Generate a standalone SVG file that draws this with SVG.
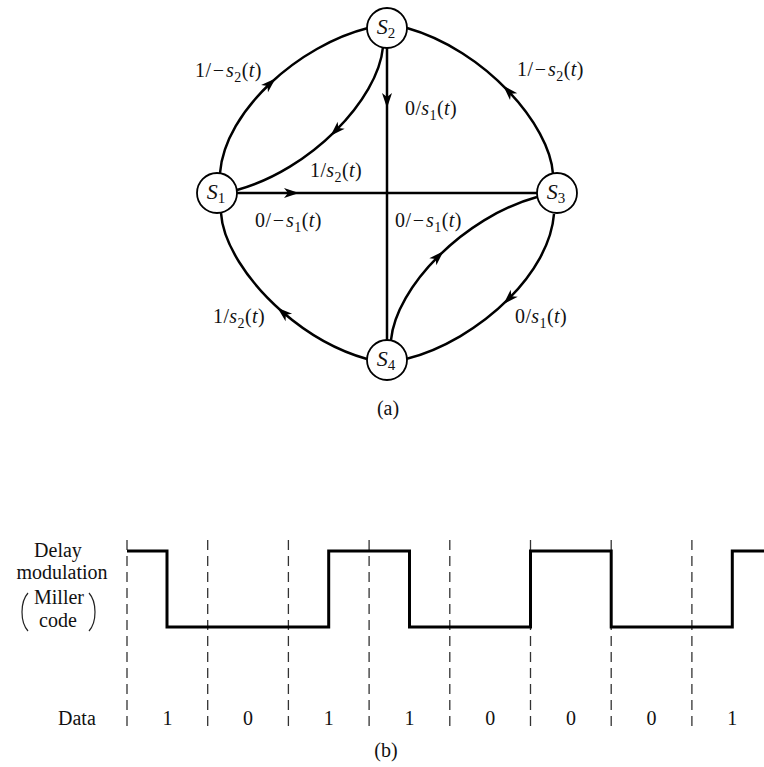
<svg xmlns="http://www.w3.org/2000/svg" width="764" height="767" viewBox="0 0 764 767">
<defs>
<style>
.ln{fill:none;stroke:#000;stroke-width:2.5}
.ar{marker-mid:url(#arr)}
.nc{fill:#fff;stroke:#000;stroke-width:1.8}
.t{font-family:"Liberation Serif","Times New Roman",serif;font-size:20px;fill:#111}
.lb{letter-spacing:0.4px}
.nd{font-size:22px}
.i{font-style:italic}
.sub{font-size:14px}
.nd .sub{font-size:15px}
.dash{stroke:#333;stroke-width:1.3;stroke-dasharray:10 6}
.wave{fill:none;stroke:#000;stroke-width:3}
.par{fill:none;stroke:#222;stroke-width:1.2}
</style>
<marker id="arr" markerUnits="userSpaceOnUse" viewBox="-10 -6 18 12" markerWidth="18" markerHeight="12" refX="0" refY="0" orient="auto">
<path d="M7,0 L-8,-5 L-4,0 L-8,5 Z" fill="#000"/>
</marker>
</defs>

<g id="connectors">
<path class="ln ar" d="M220,173 C222.5,141.5 242.5,109.5 270.38,83.25 C298.25,57 334,36.5 368,28"/>
<path class="ln ar" d="M383,47 C380.5,73.5 362.25,104.25 335.5,130.88 C308.75,157.5 273.5,180 237,190"/>
<path class="ln ar" d="M553,174 C551.5,149.5 534.5,118.5 508.13,90.88 C481.75,63.25 446,39 407,28"/>
<path class="ln ar" d="M554,214 C551.65,243.61 533.84,273.66 508.55,298.96 C480.04,327.5 442.04,349.99 406,359"/>
<path class="ln ar" d="M391,340 C393.5,313.5 411.75,282.75 438.5,256.13 C465.25,229.5 500.5,207 537,197"/>
<path class="ln ar" d="M367,359 C335.8,350.2 306.68,332.92 282.78,312.22 C246.92,281.16 222.8,242.4 221,213"/>
<path class="ln ar" d="M237,193 L292,193 L537,193"/>
<path class="ln ar" d="M387,48 L387,101 L387,340"/>
</g>

<g id="labels">
<text class="t lb" x="195" y="77">1/<tspan dx="1.5">−</tspan><tspan dx="1.5" class="i">s</tspan><tspan class="sub" dy="5">2</tspan><tspan dy="-5">(</tspan><tspan class="i">t</tspan>)</text>
<text class="t lb" x="310" y="177">1/<tspan class="i">s</tspan><tspan class="sub" dy="5">2</tspan><tspan dy="-5">(</tspan><tspan class="i">t</tspan>)</text>
<text class="t lb" x="405" y="115">0/<tspan class="i">s</tspan><tspan class="sub" dy="5">1</tspan><tspan dy="-5">(</tspan><tspan class="i">t</tspan>)</text>
<text class="t lb" x="517" y="76">1/<tspan dx="1.5">−</tspan><tspan dx="1.5" class="i">s</tspan><tspan class="sub" dy="5">2</tspan><tspan dy="-5">(</tspan><tspan class="i">t</tspan>)</text>
<text class="t lb" x="255" y="227">0/<tspan dx="1.5">−</tspan><tspan dx="1.5" class="i">s</tspan><tspan class="sub" dy="5">1</tspan><tspan dy="-5">(</tspan><tspan class="i">t</tspan>)</text>
<text class="t lb" x="395" y="227">0/<tspan dx="1.5">−</tspan><tspan dx="1.5" class="i">s</tspan><tspan class="sub" dy="5">1</tspan><tspan dy="-5">(</tspan><tspan class="i">t</tspan>)</text>
<text class="t lb" x="515" y="323">0/<tspan class="i">s</tspan><tspan class="sub" dy="5">1</tspan><tspan dy="-5">(</tspan><tspan class="i">t</tspan>)</text>
<text class="t lb" x="213" y="323">1/<tspan class="i">s</tspan><tspan class="sub" dy="5">2</tspan><tspan dy="-5">(</tspan><tspan class="i">t</tspan>)</text>
<text class="t" x="388" y="415" text-anchor="middle">(a)</text>
</g>

<g id="S1"><circle class="nc" cx="217" cy="193" r="20"/><text class="t nd" x="216" y="199" text-anchor="middle"><tspan class="i">S</tspan><tspan class="sub" dy="4">1</tspan></text></g>
<g id="S2"><circle class="nc" cx="387" cy="28" r="20"/><text class="t nd" x="386" y="34" text-anchor="middle"><tspan class="i">S</tspan><tspan class="sub" dy="4">2</tspan></text></g>
<g id="S3"><circle class="nc" cx="557" cy="193" r="20"/><text class="t nd" x="556" y="199" text-anchor="middle"><tspan class="i">S</tspan><tspan class="sub" dy="4">3</tspan></text></g>
<g id="S4"><circle class="nc" cx="387" cy="360" r="20"/><text class="t nd" x="386" y="366" text-anchor="middle"><tspan class="i">S</tspan><tspan class="sub" dy="4">4</tspan></text></g>

<g id="timing">
<line class="dash" x1="127" y1="540" x2="127" y2="731"/>
<line class="dash" x1="207.7" y1="540" x2="207.7" y2="731"/>
<line class="dash" x1="288.4" y1="540" x2="288.4" y2="731"/>
<line class="dash" x1="369.1" y1="540" x2="369.1" y2="731"/>
<line class="dash" x1="449.8" y1="540" x2="449.8" y2="731"/>
<line class="dash" x1="530.5" y1="540" x2="530.5" y2="731"/>
<line class="dash" x1="611.2" y1="540" x2="611.2" y2="731"/>
<line class="dash" x1="691.9" y1="540" x2="691.9" y2="731"/>
<path class="wave" d="M127,551 H167 V627 H328.7 V551 H409.5 V627 H530.5 V551 H611.2 V627 H732.3 V551 H764"/>
<text class="t" x="58" y="557" text-anchor="middle">Delay</text>
<text class="t" x="62" y="579" text-anchor="middle">modulation</text>
<text class="t" x="59" y="604" text-anchor="middle">Miller</text>
<text class="t" x="58" y="627" text-anchor="middle">code</text>
<path class="par" d="M28,593 C20,602 20,622 28,631"/>
<path class="par" d="M89,593 C97,602 97,622 89,631"/>
<text class="t" x="58" y="725">Data</text>
<g class="t" text-anchor="middle">
<text x="167.4" y="725">1</text>
<text x="248" y="725">0</text>
<text x="328.7" y="725">1</text>
<text x="409.5" y="725">1</text>
<text x="490.2" y="725">0</text>
<text x="570.9" y="725">0</text>
<text x="651.6" y="725">0</text>
<text x="732.3" y="725">1</text>
</g>
<text class="t" x="386" y="757" text-anchor="middle">(b)</text>
</g>
</svg>
